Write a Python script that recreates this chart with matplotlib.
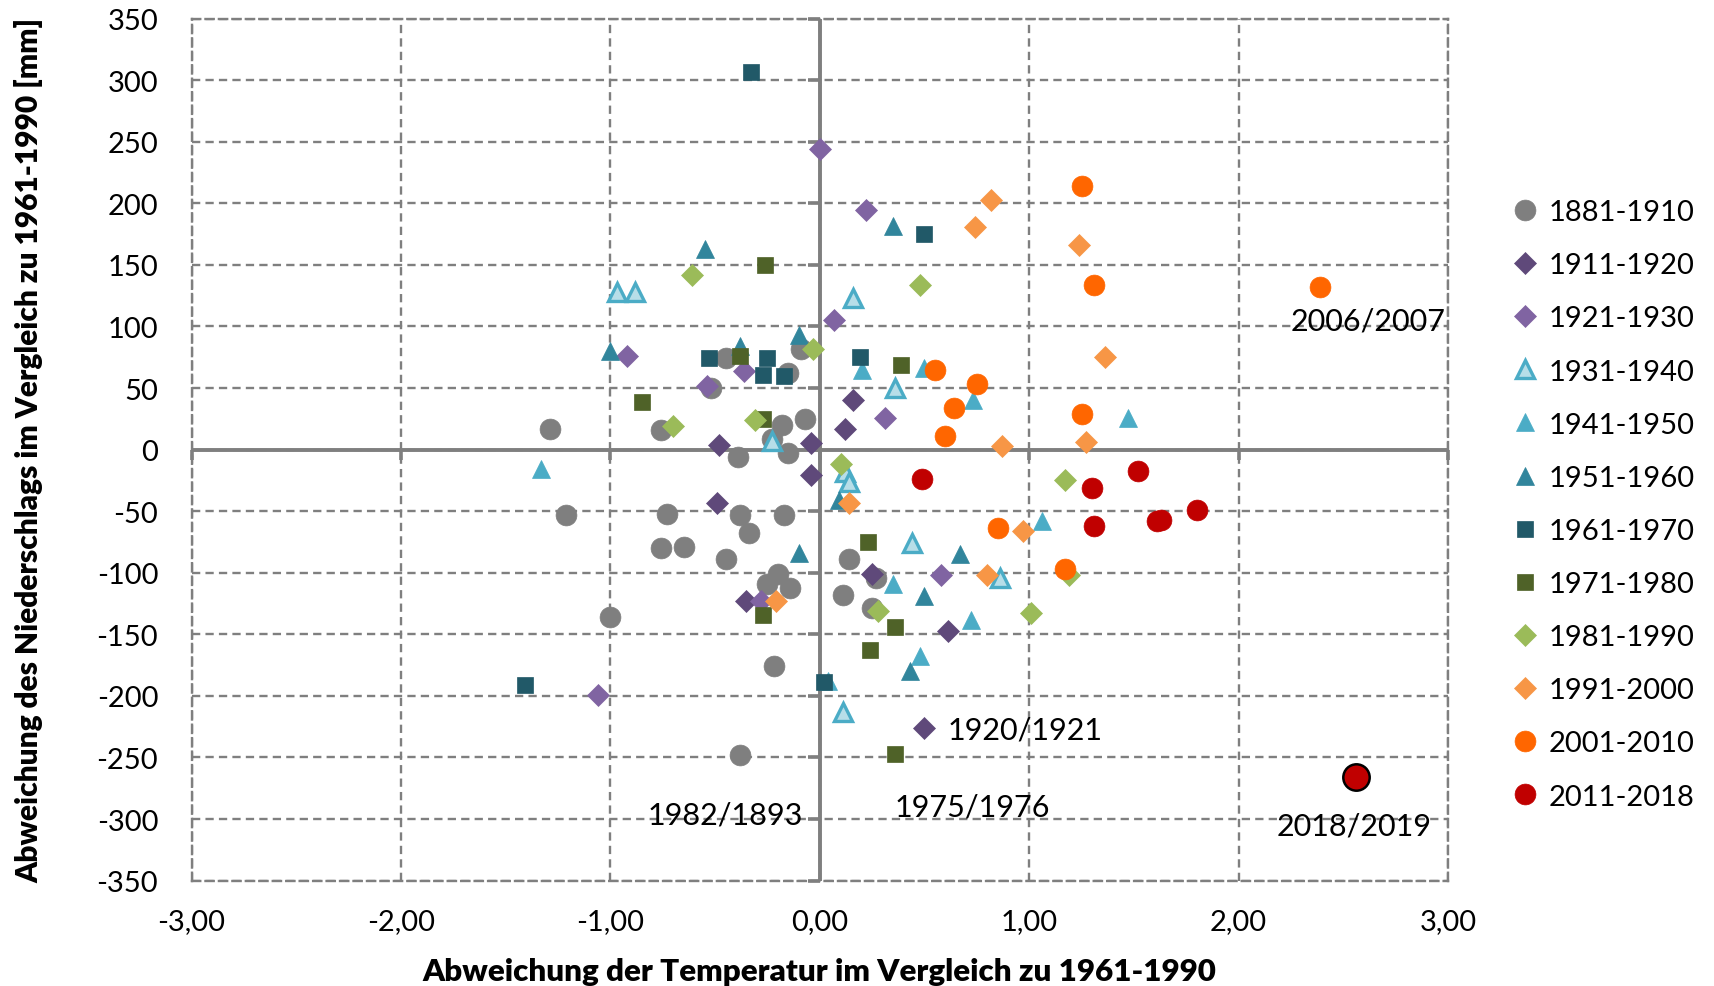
#!/usr/bin/env python3

'''
Abweichung von Temperatur und Niederschlag (Winterhalbjahr) im Vergleich zu 1961-1990
'''

import matplotlib as mpl
mpl.use('Agg')
import matplotlib.pyplot as plt
import numpy as np

# data: temperature anomaly (x) and precipitation anomaly (y) per period
t_1881 = [-1.29, -0.76, -1.21, -0.73, -0.76, -0.65, -1.00, -0.45, -0.39, -0.38,
          -0.34, -0.45, -0.52, -0.18, -0.07, -0.15, -0.17, -0.09, -0.15, -0.25,
          -0.20, -0.14, -0.22, -0.38, 0.11, 0.14, 0.27, 0.25, -0.23]
p_1881 = [17, 16, -53, -52, -80, -79, -136, -89, -6, -53,
          -68, 74, 50, 20, 25, -3, -53, 82, 62, -109,
          -101, -112, -176, -248, -118, -89, -104, -129, 9]

t_1911 = [-0.48, -0.04, -0.04, -0.49, -0.35, 0.16, 0.12, 0.25, 0.61, 0.50]
p_1911 = [4, 5, -21, -43, -123, 40, 17, -101, -147, -226]

t_1921 = [0.00, 0.22, 0.07, -0.92, -0.36, -0.54, 0.31, 0.58, -1.06, -0.28]
p_1921 = [244, 195, 105, 76, 64, 52, 26, -102, -199, -123]

t_1931 = [-0.97, -0.88, 0.16, 0.36, -0.23, 0.12, 0.14, 0.44, 0.86, 0.11]
p_1931 = [128, 128, 123, 50, 7, -18, -26, -76, -104, -213]

t_1941 = [-1.33, 0.20, 0.50, 0.73, 1.47, 1.06, 0.35, 0.72, 0.48, 0.04]
p_1941 = [-16, 65, 66, 40, 26, -58, -109, -138, -168, -188]

t_1951 = [-0.55, 0.35, -1.00, -0.38, -0.10, 0.09, -0.10, 0.67, 0.50, 0.43]
p_1951 = [163, 182, 80, 84, 93, -41, -84, -85, -119, -180]

t_1961 = [-0.33, 0.50, -0.53, -0.25, -0.27, -0.17, 0.19, -1.41, 0.02]
p_1961 = [307, 175, 74, 74, 61, 60, 75, -191, -189]

t_1971 = [-0.26, -0.38, 0.39, -0.85, -0.27, -0.27, 0.23, 0.36, 0.24, 0.36]
p_1971 = [150, 76, 69, 39, 25, -134, -75, -144, -163, -247]

t_1981 = [-0.61, 0.48, -0.03, -0.70, -0.31, 0.10, 1.17, 1.19, 0.28, 1.01]
p_1981 = [142, 134, 82, 19, 24, -12, -25, -102, -131, -133]

t_1991 = [0.82, 0.74, 1.24, 1.36, 0.87, 1.27, 0.14, 0.97, 0.80, -0.21]
p_1991 = [203, 181, 166, 75, 3, 6, -43, -66, -102, -123]

t_2001 = [1.25, 1.31, 2.39, 0.55, 0.75, 0.64, 1.25, 0.60, 0.85, 1.17]
p_2001 = [214, 134, 132, 65, 53, 34, 29, 11, -64, -97]

t_2011 = [0.49, 1.30, 1.52, 1.80, 1.61, 1.63, 1.31]
p_2011 = [-24, -31, -17, -49, -58, -57, -62]

t_2018 = [2.56]
p_2018 = [-266]

# labelled years
note_text = ['2006/2007', '1920/1921', '1975/1976', '1982/1893', '2018/2019']
note_x = [2.62, 0.98, 0.73, -0.45, 2.55]
note_y = [105, -227, -290, -296, -305]

x_ticks = [-3, -2, -1, 0, 1, 2, 3]
y_ticks = list(range(-350, 351, 50))

plt.rcParams['font.family'] = ['Lato', 'DejaVu Sans']

fig = plt.figure(figsize=(17.15, 9.87), dpi=100)
ax = fig.add_axes([0.1117, 0.1068, 0.7326, 0.8733])

grid_col = '#7f7f7f'
dash = (0, (3.5, 2.2))
ax.set_xlim(-3, 3)
ax.set_ylim(-350, 350)
ax.set_xticks(x_ticks)
ax.set_yticks(y_ticks)
ax.set_xticklabels([f'{v:.2f}'.replace('.', ',') for v in x_ticks])
ax.set_yticklabels([str(v) for v in y_ticks])
ax.tick_params(length=0, labelsize=21, colors='black')
ax.tick_params(axis='x', pad=20)
ax.tick_params(axis='y', pad=24)
ax.grid(True, color=grid_col, linestyle=dash, linewidth=1.7)
for s in ax.spines.values():
    s.set_linestyle(dash)
    s.set_color(grid_col)
    s.set_linewidth(1.7)
ax.set_axisbelow(True)

# zero axes with small tick marks
ax.axhline(0, color=grid_col, lw=2.8, zorder=1)
ax.axvline(0, color=grid_col, lw=2.8, zorder=1)
ax.plot(np.zeros(len(y_ticks)), y_ticks, ls='none', marker=0, ms=9,
        mew=2.6, color=grid_col, zorder=1, clip_on=False)
ax.plot(x_ticks, np.zeros(len(x_ticks)), ls='none', marker=3, ms=7,
        mew=2.6, color=grid_col, zorder=1, clip_on=False)

series = [
    ('1881-1910', t_1881, p_1881, 'o', 15, '#7f7f7f', '#7f7f7f'),
    ('1911-1920', t_1911, p_1911, 'D', 11.5, '#5f497a', '#5f497a'),
    ('1921-1930', t_1921, p_1921, 'D', 11.5, '#8064a2', '#8064a2'),
    ('1931-1940', t_1931, p_1931, '^', 13, '#b7dee8', '#4bacc6'),
    ('1941-1950', t_1941, p_1941, '^', 13, '#4bacc6', '#4bacc6'),
    ('1951-1960', t_1951, p_1951, '^', 13, '#31859c', '#31859c'),
    ('1961-1970', t_1961, p_1961, 's', 12, '#215968', '#215968'),
    ('1971-1980', t_1971, p_1971, 's', 12, '#4f6228', '#4f6228'),
    ('1981-1990', t_1981, p_1981, 'D', 11.5, '#9bbb59', '#9bbb59'),
    ('1991-2000', t_1991, p_1991, 'D', 11.5, '#f79646', '#f79646'),
    ('2001-2010', t_2001, p_2001, 'o', 15, '#ff6600', '#ff6600'),
    ('2011-2018', t_2011, p_2011, 'o', 15, '#c00000', '#c00000'),
]

for label, xs, ys, mk, ms, fc, ec in series:
    ax.plot(xs, ys, ls='none', marker=mk, ms=ms, mfc=fc, mec=ec,
            mew=2.4 if fc != ec else 0.5, label=label, zorder=3)

ax.plot(t_2018, p_2018, ls='none', marker='o', ms=19, mfc='#c00000',
        mec='black', mew=1.8, zorder=4)

for txt, nx, ny in zip(note_text, note_x, note_y):
    ax.text(nx, ny, txt, fontsize=22, ha='center', va='center', zorder=5)

ax.set_xlabel('Abweichung der Temperatur im Vergleich zu 1961-1990',
              fontsize=22.5, fontweight='heavy', labelpad=16)
ax.set_ylabel('Abweichung des Niederschlags im Vergleich zu 1961-1990 [mm]',
              fontsize=21.5, fontweight='heavy', labelpad=38)

fig.legend(loc='upper left', bbox_to_anchor=(0.874, 0.809), frameon=False,
           fontsize=21, labelspacing=0.93, handletextpad=0.3,
           handlelength=1.0, borderaxespad=0)

plt.savefig('out.png', dpi=100)
